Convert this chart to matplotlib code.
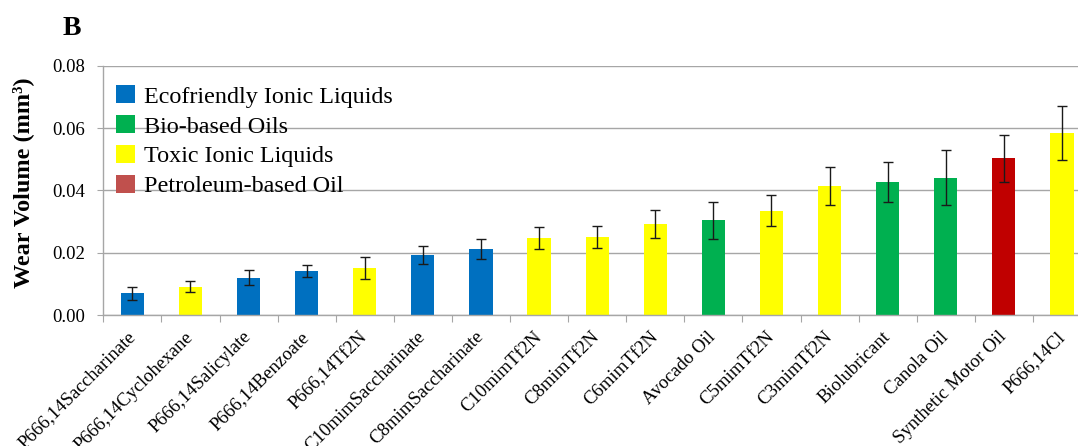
import numpy as np
import matplotlib
matplotlib.use("Agg")
import matplotlib.pyplot as plt
from matplotlib.patches import Patch

categories = ["P666,14Saccharinate", "P666,14Cyclohexane", "P666,14Salicylate",
              "P666,14Benzoate", "P666,14Tf2N", "C10mimSaccharinate",
              "C8mimSaccharinate", "C10mimTf2N", "C8mimTf2N", "C6mimTf2N",
              "Avocado Oil", "C5mimTf2N", "C3mimTf2N", "Biolubricant",
              "Canola Oil", "Synthetic Motor Oil", "P666,14Cl"]
values = [0.0070, 0.0091, 0.0120, 0.0142, 0.0150, 0.0193, 0.0211, 0.0247,
          0.0250, 0.0292, 0.0304, 0.0334, 0.0415, 0.0428, 0.0440, 0.0503, 0.0585]
errors = [0.0021, 0.0017, 0.0024, 0.0020, 0.0036, 0.0030, 0.0032, 0.0036,
          0.0036, 0.0044, 0.0060, 0.0050, 0.0061, 0.0064, 0.0088, 0.0076, 0.0087]
groups = ["Eco", "Toxic", "Eco", "Eco", "Toxic", "Eco", "Eco", "Toxic",
          "Toxic", "Toxic", "Bio", "Toxic", "Toxic", "Bio", "Bio", "Petro", "Toxic"]
legend_labels = ["Ecofriendly Ionic Liquids", "Bio-based Oils",
                 "Toxic Ionic Liquids", "Petroleum-based Oil"]
legend_groups = ["Eco", "Bio", "Toxic", "Petro"]
bar_colors = {"Eco": "#0070C0", "Bio": "#00B050", "Toxic": "#FFFF00", "Petro": "#C00000"}
legend_colors = {"Eco": "#0070C0", "Bio": "#00B050", "Toxic": "#FFFF00", "Petro": "#C0504D"}
yticks = [0.00, 0.02, 0.04, 0.06, 0.08]

plt.rcParams['font.family'] = ['Liberation Serif', 'DejaVu Serif']

W, H = 1078, 446
fig = plt.figure(figsize=(W / 100, H / 100), dpi=100)
left, right, top, bottom = 103.3, 1091.0, 65.7, 315.0
ax = fig.add_axes([left / W, 1 - bottom / H, (right - left) / W, (bottom - top) / H])

n = len(categories)
x = np.arange(n)
ax.bar(x, values, width=0.4, color=[bar_colors[g] for g in groups], zorder=2)
ax.errorbar(x, values, yerr=errors, fmt='none', ecolor='#1a1a1a', elinewidth=1.0,
            capsize=3.5, capthick=1.0, zorder=3)

ax.set_xlim(-0.5, n - 0.5)
ax.set_ylim(0, 0.08)
ax.set_yticks(yticks)
ax.set_yticklabels([f"{v:.2f}" for v in yticks], fontsize=13.5)
ax.yaxis.grid(True, color='#a6a6a6', linewidth=1.0, zorder=0)
ax.set_axisbelow(True)

ax.set_xticks(np.arange(-0.5, n, 1))
ax.set_xticklabels([])
ax.set_xticks(x, minor=True)
ax.set_xticklabels(categories, minor=True, rotation=45, ha='right', va='center',
                   rotation_mode='anchor', fontsize=13.5)
ax.tick_params(axis='x', which='minor', length=0, pad=14)
ax.tick_params(axis='x', which='major', length=5, color='#a6a6a6', direction='out')
ax.tick_params(axis='y', length=4, color='#a6a6a6', pad=9)

for s in ['top', 'right']:
    ax.spines[s].set_visible(False)
for s in ['left', 'bottom']:
    ax.spines[s].set_color('#a6a6a6')
    ax.spines[s].set_linewidth(1.0)

fig.text(23 / W, 1 - 182.5 / H, "Wear Volume (mm³)", rotation=90, fontsize=17.5,
         fontweight='bold', ha='center', va='center')
fig.text(63 / W, 1 - 35 / H, "B", fontsize=20, fontweight='bold', ha='left', va='baseline')

handles = [Patch(facecolor=legend_colors[g], edgecolor='none') for g in legend_groups]
fig.legend(handles, legend_labels, loc='upper left',
           bbox_to_anchor=(116 / W, 1 - 85 / H), frameon=False, fontsize=17.4,
           handlelength=0.8, handleheight=0.8, handletextpad=0.35,
           labelspacing=0.3, borderpad=0, borderaxespad=0)

fig.savefig("out.png", dpi=100)
